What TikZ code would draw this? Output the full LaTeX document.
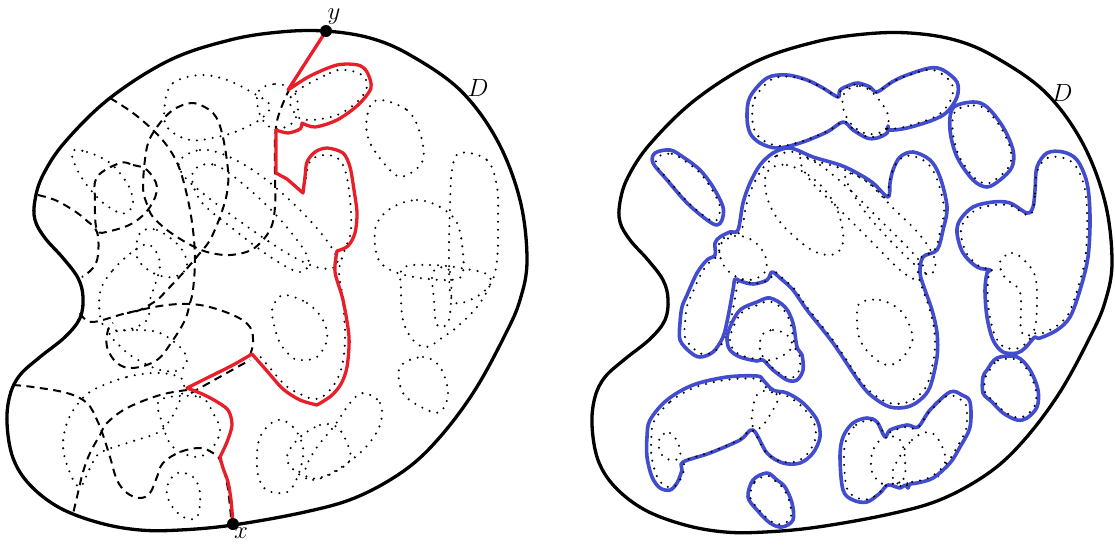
\documentclass[tikz,border=0pt]{standalone}
\usepackage{xcolor}
\definecolor{myred}{RGB}{232,30,40}
\definecolor{myblue}{RGB}{66,76,206}
\newcommand\blob[4]{%
  \draw[blu] plot[smooth cycle,tension=.55] coordinates{#1};
  \begin{scope}[shift={(#2,#3)},scale=#4,shift={(-#2,-#3)}]
    \draw[dts] plot[smooth cycle,tension=.55] coordinates{#1};
  \end{scope}}
\newcommand\dloop[1]{\draw[dts] plot[smooth cycle,tension=.6] coordinates{#1};}
\def\Dpath{plot[smooth cycle,tension=.6] coordinates{(233,525) (180,530) (140,530) (100,523) (60,508) (30,485) (13,458) (7,423) (10,395) (20,375) (40,357) (65,337) (80,318) (83,297) (78,278) (63,258) (45,238) (35,220) (35,200) (43,175) (65,142) (110,98) (170,60) (230,40) (280,32) (325,31) (370,38) (410,55) (460,90) (497,140) (520,200) (527,260) (520,300) (505,335) (475,390) (440,437) (405,470) (357,497) (305,512)}}
\begin{document}
\begin{tikzpicture}[x=1pt,y=-1pt,
  bnd/.style={line width=3.3pt,black},
  dsh/.style={line width=2pt,dash pattern=on 8pt off 5.5pt},
  dts/.style={line width=2.3pt,line cap=round,dash pattern=on 0pt off 8pt},
  redp/.style={line width=3.3pt,myred,line join=round},
  blu/.style={line width=3.6pt,myblue,line join=round},
  lab/.style={font=\fontsize{25}{30}\selectfont,inner sep=0pt},
  pt/.style={circle,fill=black,inner sep=0pt,minimum size=12pt}]
\useasboundingbox (0,0) rectangle (1115,544);

% ================= LEFT PANEL =================
% dotted clusters
\dloop{(165,103) (173,83) (200,75) (227,80) (253,93) (270,105) (262,118) (240,130) (217,137) (190,140) (167,127)}
\dloop{(258,92) (275,84) (293,90) (298,110) (290,125) (272,128) (260,115)}
\dloop{(72,152) (87,152) (110,163) (127,183) (133,200) (130,210) (120,213) (100,200) (80,175)}
\dloop{(180,160) (200,150) (225,155) (260,175) (300,210) (330,245) (337,265) (320,268) (290,255) (245,225) (205,195) (183,175)}
\dloop{(193,172) (215,165) (250,190) (285,225) (308,258) (300,272) (272,258) (232,228) (200,200)}
\dloop{(140,233) (157,230) (180,247) (187,267) (173,277) (153,273) (137,257)}
\dloop{(100,293) (113,270) (135,250) (150,245) (160,265) (150,300) (147,320) (125,330) (103,325)}
\dloop{(110,333) (137,330) (160,333) (180,347) (187,360) (180,370) (160,370) (133,357) (117,343)}
\dloop{(93,390) (127,377) (160,373) (183,380) (180,400) (170,420) (157,433) (127,443) (100,453) (90,468) (80,487) (70,473) (63,447) (67,423) (77,405)}
\dloop{(177,473) (193,477) (200,493) (197,517) (183,517) (170,503) (167,487)}
\dloop{(160,400) (200,397) (213,413) (220,430) (213,447) (197,457) (173,447) (163,425)}
\dloop{(283,295) (307,303) (323,320) (327,340) (317,357) (303,360) (293,358) (280,343) (273,320) (273,307)}
\dloop{(377,100) (407,110) (420,133) (423,160) (407,175) (393,173) (370,143) (367,117)}
\dloop{(460,153) (487,160) (497,187) (498,220) (497,260) (490,285) (470,300) (452,300) (449,260) (450,207) (452,170)}
\dloop{(393,207) (417,200) (440,207) (457,223) (463,253) (462,275) (450,280) (420,278) (395,272) (380,262) (375,245) (377,223)}
\dloop{(403,268) (430,265) (460,268) (490,277) (480,303) (457,327) (443,337) (427,347) (413,340) (403,320) (401,290)}
\dloop{(433,272) (450,272) (449,320) (437,325) (434,300)}
\dloop{(400,367) (423,357) (440,367) (448,393) (440,412) (423,408) (403,393)}
\dloop{(277,420) (293,427) (303,447) (300,470) (290,490) (277,493) (263,487) (257,467) (260,437)}
\dloop{(297,440) (320,425) (337,427) (347,443) (350,460) (333,473) (317,478) (303,477) (287,460)}
\dloop{(363,393) (380,403) (380,425) (365,448) (340,468) (315,480) (305,472) (315,450) (335,425) (350,403)}
\dloop{(292,95) (330,73) (345,70) (362,75) (367,87) (357,102) (337,115) (310,120) (296,115)}
\draw[dts] plot[smooth,tension=.6] coordinates{(306,178) (311,160) (328,155) (342,163) (349,190) (351,230) (344,252) (339,272) (343,300) (345,340) (341,370) (330,390) (316,399) (300,394) (285,385) (270,368) (258,354)};

% dashed lines
\draw[dsh] plot[smooth,tension=.6] coordinates{(110,98) (133,113) (155,132) (170,150) (180,170) (188,200) (193,230) (195,260) (193,290) (190,303) (185,320) (173,340) (157,360) (133,368) (117,363) (107,347) (108,330) (113,323)};
\draw[dsh] plot[smooth,tension=.6] coordinates{(80,313) (92,322) (127,313) (167,305) (200,305) (233,315) (250,327) (253,343) (250,355)};
\draw[dsh] plot[smooth,tension=.55] coordinates{(326,31) (307,60) (290,88) (278,117) (275,140) (275,173) (275,207) (270,230) (253,249) (230,255) (207,252) (187,243) (167,230) (153,217) (148,207) (143,187) (147,147) (157,127) (173,110) (193,103) (213,113) (222,133) (228,170) (227,193) (220,217) (210,240) (200,253) (183,273) (167,290) (157,300) (140,310) (127,313)};
\draw[dsh] plot[smooth cycle,tension=.6] coordinates{(120,163) (133,165) (147,170) (157,187) (150,207) (133,223) (110,231) (97,230) (95,200) (97,177)};
\draw[dsh] plot[smooth,tension=.6] coordinates{(38,195) (55,200) (73,210) (86,220) (97,232) (98,255) (93,268) (82,277)};
\draw[dsh] plot[smooth,tension=.6] coordinates{(13,385) (33,387) (67,393) (87,403) (97,420) (103,435) (110,457) (117,480) (127,493) (140,498) (150,493) (157,477) (163,463) (180,452) (200,448) (213,453) (220,460) (227,483) (231,517)};
\draw[dsh] plot[smooth,tension=.6] coordinates{(187,390) (160,395) (127,408) (107,423) (100,435) (90,453) (83,472) (77,497) (73,514)};
\draw[dsh] (191,393) -- (250,360);

% boundary
\draw[bnd] \Dpath;

% red path between the two marked points
\coordinate (xc) at (233,524);
\coordinate (yc) at (326,31);
\draw[redp] (xc) -- plot[smooth,tension=.5] coordinates{(233,524) (231,500) (228,482) (223,468) (220,457)}
 -- plot[smooth,tension=.5] coordinates{(220,457) (227,442) (232,425) (228,410) (214,400) (200,393) (187,388)}
 -- plot[smooth,tension=.5] coordinates{(187,388) (207,378) (233,365) (252,354)}
 -- plot[smooth,tension=.5] coordinates{(252,354) (267,371) (283,389) (300,400) (317,405)}
 -- plot[smooth,tension=.5] coordinates{(317,405) (331,396) (341,384) (347,367) (349,337) (343,300) (335,272) (337,251)}
 -- plot[smooth,tension=.5] coordinates{(337,251) (348,246) (355,233) (357,213) (354,190) (350,167) (343,153) (327,148) (315,152) (307,162) (305,177) (303,193)}
 -- (287,179) -- (276,173) -- (276,130)
 -- plot[smooth,tension=.5] coordinates{(276,130) (288,133) (300,129) (302,123)}
 -- plot[smooth,tension=.5] coordinates{(302,123) (315,127) (337,120) (358,105) (371,88) (367,72) (358,65) (337,65) (310,76) (288,90)}
 -- (yc);
\node[pt] (x) at (xc) {};
\node[pt] (y) at (yc) {};

\node[lab] (ly) at (334,17) {$y$};
\node[lab] (lx) at (241,533) {$x$};
\node[lab] (lD1) at (478,88) {$D$};

% ================= RIGHT PANEL =================
\begin{scope}[shift={(585,2)}]
\draw[bnd] \Dpath;
\end{scope}
\node[lab] (lD2) at (1062,93) {$D$};

% interior dotted loops
\dloop{(767,172) (787,165) (815,180) (835,205) (843,233) (840,250) (827,255) (807,247) (780,222) (767,197)}
\dloop{(800,158) (820,165) (850,190) (880,220) (910,250) (925,270) (918,280) (900,270) (870,240) (840,210) (810,180)}
\dloop{(845,175) (865,180) (895,210) (920,235) (935,260) (930,275) (915,265) (885,235) (860,205)}
\dloop{(860,303) (880,300) (900,310) (910,327) (912,343) (900,360) (887,365) (873,357) (860,340) (857,317)}
\dloop{(1000,262) (1012,253) (1026,262) (1036,280) (1036,322) (1030,335) (1021,330) (1020,292) (1005,278)}
\dloop{(873,450) (885,437) (900,440) (905,460) (903,480) (885,485) (872,472)}
\dloop{(893,470) (912,440) (932,433) (945,455) (940,475) (920,482) (898,482)}
\dloop{(660,437) (670,433) (678,443) (680,457) (670,460) (660,452)}
\dloop{(757,395) (770,390) (778,398) (770,415) (760,428) (752,425) (753,408)}
\dloop{(762,335) (773,330) (787,335) (792,347) (780,357) (767,360) (760,350)}
\dloop{(845,92) (860,86) (875,95) (888,115) (885,130) (868,134) (852,125) (843,108)}
\dloop{(720,245) (735,236) (752,240) (765,255) (765,272) (750,280) (733,275) (722,262)}

% blue clusters
\blob{(747,117) (750,97) (767,78) (787,75) (807,80) (823,88) (838,97) (840,90) (850,85) (858,83) (870,87) (877,92) (892,82) (907,75) (930,68) (943,70) (957,82) (957,97) (947,112) (933,120) (907,128) (890,130) (888,126) (887,133) (877,138) (867,138) (853,130) (843,122) (827,132) (800,143) (777,148) (760,143) (750,133)}{852}{108}{0.95}
\blob{(655,153) (670,150) (683,157) (700,170) (713,187) (723,207) (722,220) (717,225) (707,220) (687,203) (667,180) (653,163)}{688}{188}{0.9}
\blob{(787,148) (773,153) (760,165) (750,183) (743,203) (738,230) (730,232) (720,237) (715,243) (715,255) (707,260) (697,273) (687,295) (682,307) (680,323) (680,340) (690,352) (700,357) (713,352) (723,337) (728,317) (733,290) (735,279) (740,281) (753,284) (767,280) (772,272) (780,278) (793,290) (807,310) (833,343) (860,383) (873,397) (890,407) (907,407) (920,400) (930,387) (937,357) (937,333) (932,310) (925,290) (920,273) (923,257) (937,250) (943,230) (947,207) (940,177) (930,160) (913,152) (900,157) (893,170) (890,183) (888,197) (873,183) (857,173) (840,165) (813,157) (797,150)}{850}{270}{0.97}
\blob{(953,108) (973,102) (987,107) (1003,127) (1013,150) (1012,167) (1000,180) (987,187) (973,180) (957,157) (950,130)}{983}{145}{0.92}
\blob{(1033,207) (1035,190) (1037,167) (1047,153) (1063,152) (1077,160) (1087,183) (1090,217) (1088,257) (1080,290) (1070,317) (1057,330) (1040,338) (1035,337) (1032,340) (1025,348) (1017,353) (1003,352) (993,340) (987,317) (985,290) (987,273) (990,270) (977,267) (963,253) (957,233) (960,220) (973,207) (993,202) (1010,203) (1027,213)}{1035}{260}{0.95}
\blob{(987,370) (997,358) (1017,357) (1030,370) (1038,390) (1037,407) (1027,418) (1017,420) (1003,413) (992,402) (983,393) (983,377)}{1010}{388}{0.92}
\blob{(843,437) (853,423) (867,418) (877,422) (885,437) (890,430) (907,425) (918,427) (930,410) (950,392) (962,395) (970,402) (970,427) (960,447) (950,463) (933,478) (917,483) (910,484) (908,488) (905,485) (900,488) (888,485) (880,493) (867,502) (853,500) (843,490) (840,457)}{905}{455}{0.94}
\blob{(650,420) (667,400) (693,385) (727,377) (757,376) (763,380) (773,390) (787,393) (803,403) (817,420) (820,437) (813,453) (800,463) (783,463) (767,453) (753,430) (740,440) (710,453) (683,462) (682,470) (677,483) (670,490) (660,488) (652,477) (647,457) (647,437)}{735}{430}{0.95}
\blob{(748,497) (753,480) (767,473) (777,480) (785,487) (792,503) (793,520) (782,527) (770,523) (757,510)}{770}{500}{0.9}
\blob{(730,327) (740,310) (757,302) (770,298) (785,307) (793,323) (797,347) (802,355) (803,370) (797,380) (787,380) (773,370) (763,360) (757,361) (740,357) (730,350) (727,340)}{765}{340}{0.92}
\end{tikzpicture}
\end{document}
